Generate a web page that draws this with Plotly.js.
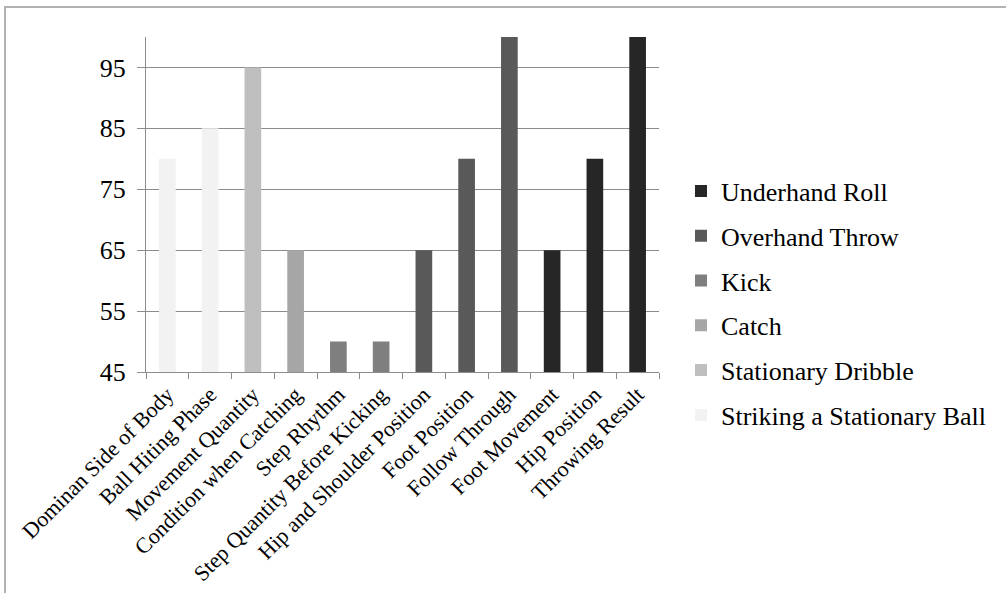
<!DOCTYPE html>
<html>
<head>
<meta charset="utf-8">
<script src="https://cdn.plot.ly/plotly-3.0.1.min.js"></script>
<style>
  html, body { margin: 0; padding: 0; background: #ffffff; }
  #chart { width: 1006px; height: 593px; }
</style>
</head>
<body>
<div id="chart"></div>
<script>
// ---- data ----
const categories = [
  "Dominan Side of Body", "Ball Hiting Phase", "Movement Quantity",
  "Condition when Catching", "Step Rhythm", "Step Quantity Before Kicking",
  "Hip and Shoulder Position", "Foot Position", "Follow Through",
  "Foot Movement", "Hip Position", "Throwing Result"
];
const strikingCats = ["Dominan Side of Body", "Ball Hiting Phase"];
const strikingVals = [80, 85];
const dribbleCats = ["Movement Quantity"];
const dribbleVals = [95];
const catchCats = ["Condition when Catching"];
const catchVals = [65];
const kickCats = ["Step Rhythm", "Step Quantity Before Kicking"];
const kickVals = [50, 50];
const overhandCats = ["Hip and Shoulder Position", "Foot Position", "Follow Through"];
const overhandVals = [65, 80, 100];
const underhandCats = ["Foot Movement", "Hip Position", "Throwing Result"];
const underhandVals = [65, 80, 100];
const yTicks = [45, 55, 65, 75, 85, 95];

// ---- styling ----
const FONT = 'Liberation Serif, Times New Roman, DejaVu Serif, serif';
const AXIS = '#8c8c8c';

function bar(name, x, y, color) {
  return {
    type: 'bar', name: name, x: x, y: y,
    marker: { color: color, line: { width: 0 } },
    legendgroup: name,
    hoverinfo: 'x+y'
  };
}

// listed in legend order (top to bottom)
const traces = [
  bar('Underhand Roll', underhandCats, underhandVals, '#262626'),
  bar('Overhand Throw', overhandCats, overhandVals, '#595959'),
  bar('Kick', kickCats, kickVals, '#7f7f7f'),
  bar('Catch', catchCats, catchVals, '#a6a6a6'),
  bar('Stationary Dribble', dribbleCats, dribbleVals, '#bfbfbf'),
  bar('Striking a Stationary Ball', strikingCats, strikingVals, '#f2f2f2')
];

// plot area in pixels: x 146..659, y 37..372
const L = 146, R = 659, T = 37, B = 372;
const px = v => (v - L) / (R - L);
const py = v => (B - v) / (B - T);

const layout = {
  width: 1006, height: 593, autosize: false,
  margin: { l: L, r: 1006 - R, t: T, b: 593 - B, pad: 0 },
  paper_bgcolor: '#ffffff', plot_bgcolor: '#ffffff',
  font: { family: FONT, color: '#000000' },
  barmode: 'overlay',
  bargap: 0.61,
  showlegend: true,
  legend: {
    x: px(681), y: py(303), xanchor: 'left', yanchor: 'middle',
    traceorder: 'grouped', tracegroupgap: 8,
    font: { family: FONT, size: 26, color: '#000000' },
    bgcolor: 'rgba(0,0,0,0)', borderwidth: 0
  },
  xaxis: {
    type: 'category', categoryorder: 'array', categoryarray: categories,
    tickangle: -45, ticks: 'outside', tickson: 'boundaries', ticklen: 6,
    tickcolor: AXIS, tickwidth: 1,
    showline: true, linecolor: AXIS, linewidth: 1,
    showgrid: false, zeroline: false,
    tickfont: { family: FONT, size: 22, color: '#000000' },
    fixedrange: true
  },
  yaxis: {
    range: [45, 100], tickmode: 'array', tickvals: yTicks,
    ticks: 'outside', ticklen: 8, tickcolor: AXIS, tickwidth: 1,
    ticklabelstandoff: 6,
    showline: true, linecolor: AXIS, linewidth: 1,
    showgrid: true, gridcolor: AXIS, gridwidth: 1,
    zeroline: false,
    tickfont: { family: FONT, size: 26, color: '#000000' },
    fixedrange: true
  },
  shapes: [{
    type: 'rect', xref: 'paper', yref: 'paper', layer: 'below',
    x0: px(5), x1: px(1012), y0: py(7), y1: py(600),
    line: { color: '#b3b3b3', width: 2 }, fillcolor: 'rgba(0,0,0,0)'
  }]
};

Plotly.newPlot('chart', traces, layout, { displayModeBar: false, staticPlot: true });
</script>
</body>
</html>
